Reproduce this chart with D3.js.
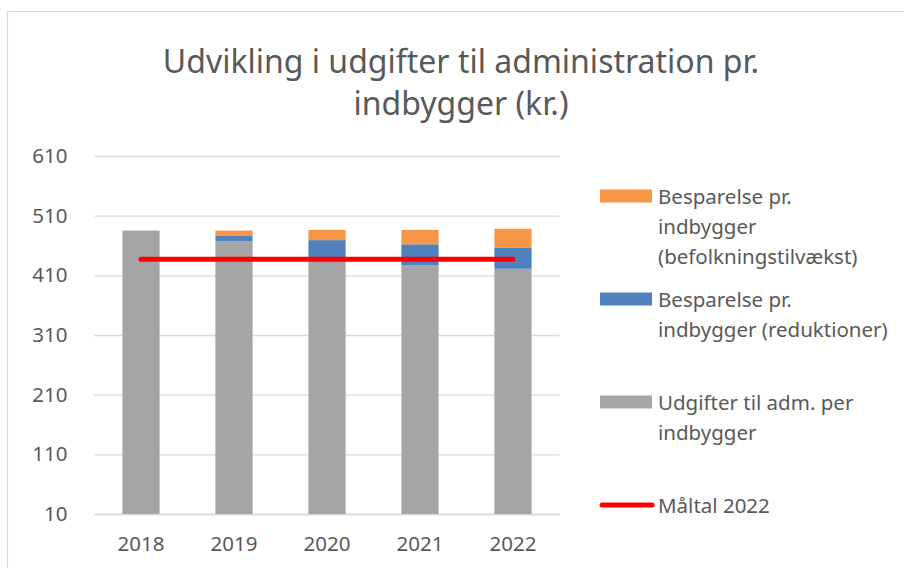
<!DOCTYPE html>
<html>
<head>
<meta charset="utf-8">
<script src="https://cdn.jsdelivr.net/npm/d3@7"></script>
<style>
    body { margin: 0; background: #fff; }
    text { font-family: "Noto Sans", "Open Sans", sans-serif; fill: #595959; }
</style>
</head>
<body>
<div id="container"></div>
<script>
const years = ["2018", "2019", "2020", "2021", "2022"]
const udgifter = [485, 467, 438, 427, 421]
const reduktioner = [0, 9, 31, 35, 35]
const befolkning = [0, 9, 17, 24, 32]
const maltal = [437, 437, 437, 437, 437]
const yTicks = [10, 110, 210, 310, 410, 510, 610]
const titleLines = ["Udvikling i udgifter til administration pr.", "indbygger (kr.)"]
const legendItems = [
    { lines: ["Besparelse pr.", "indbygger", "(befolkningstilvækst)"], color: "#F79646", kind: "bar" },
    { lines: ["Besparelse pr.", "indbygger (reduktioner)"], color: "#4F81BD", kind: "bar" },
    { lines: ["Udgifter til adm. per", "indbygger"], color: "#A5A5A5", kind: "bar" },
    { lines: ["Måltal 2022"], color: "#FF0000", kind: "line" }
]

const specs = {
    width: 904, height: 568,
    plot: { left: 94.5, right: 559.5, top: 156, bottom: 514 },
    fontSize: 20.5
}

const drawFrame = (svg) => {
    svg.append("rect")
        .attr("x", 7.5).attr("y", 11.5)
        .attr("width", specs.width + 20).attr("height", specs.height + 20)
        .attr("fill", "none").attr("stroke", "#D9D9D9").attr("stroke-width", 1.2)

    svg.append("text")
        .attr("text-anchor", "middle")
        .attr("font-size", 32)
        .selectAll("tspan")
        .data(titleLines)
        .enter()
        .append("tspan")
        .attr("x", 461)
        .attr("y", (d, i) => 73 + i * 42)
        .text(d => d)
}

const buildChart = (svg) => {
    const p = specs.plot
    const xScale = d3.scaleBand().domain(years).range([p.left, p.right])
        .paddingInner(0.6).paddingOuter(0.3)
    const yScale = d3.scaleLinear().domain([10, 610]).range([p.bottom, p.top])

    // gridlines + y labels
    const yAxis = d3.axisLeft(yScale).tickValues(yTicks)
        .tickSize(-(p.right - p.left)).tickPadding(27)
    const gy = svg.append("g").attr("transform", `translate(${p.left},0)`).call(yAxis)
    gy.select(".domain").remove()
    gy.selectAll(".tick line").attr("stroke", "#D9D9D9").attr("stroke-width", 1.3)
    gy.selectAll(".tick text").attr("font-size", specs.fontSize).attr("fill", "#595959")
        .style("font-family", "\"Noto Sans\", sans-serif")

    const xAxis = d3.axisBottom(xScale).tickSize(0).tickPadding(22)
    const gx = svg.append("g").attr("transform", `translate(0,${p.bottom})`).call(xAxis)
    gx.select(".domain").attr("stroke", "#D9D9D9").attr("stroke-width", 1.3)
    gx.selectAll(".tick text").attr("font-size", specs.fontSize).attr("fill", "#595959")
        .style("font-family", "\"Noto Sans\", sans-serif")

    const rows = years.map((y, i) => ({ year: y, udgifter: udgifter[i], reduktioner: reduktioner[i], befolkning: befolkning[i] }))
    const keys = ["udgifter", "reduktioner", "befolkning"]
    const colors = { udgifter: "#A5A5A5", reduktioner: "#4F81BD", befolkning: "#F79646" }
    const series = d3.stack().keys(keys)(rows)

    // axis starts at 10, so clip the stack there
    svg.append("g").selectAll("g")
        .data(series)
        .enter()
        .append("g")
        .attr("fill", d => colors[d.key])
        .selectAll("rect")
        .data(d => d)
        .enter()
        .append("rect")
        .attr("x", d => xScale(d.data.year))
        .attr("width", xScale.bandwidth())
        .attr("y", d => yScale(Math.max(d[1], 10)))
        .attr("height", d => Math.max(0, yScale(Math.max(d[0], 10)) - yScale(Math.max(d[1], 10))))

    const line = d3.line()
        .x((d, i) => xScale(years[i]) + xScale.bandwidth() / 2)
        .y(d => yScale(d))
    svg.append("path")
        .attr("d", line(maltal))
        .attr("fill", "none")
        .attr("stroke", "#FF0000")
        .attr("stroke-width", 5)
        .attr("stroke-linecap", "round")
}

const drawLegend = (svg) => {
    const centers = [196, 299, 402, 505]
    const g = svg.append("g")
    legendItems.forEach((item, i) => {
        const cy = centers[i]
        if (item.kind === "bar") {
            g.append("rect").attr("x", 600).attr("y", cy - 6.5)
                .attr("width", 52).attr("height", 13).attr("fill", item.color)
        } else {
            g.append("line").attr("x1", 602).attr("x2", 652)
                .attr("y1", cy).attr("y2", cy)
                .attr("stroke", item.color).attr("stroke-width", 5)
                .attr("stroke-linecap", "round")
        }
        g.append("text")
            .attr("font-size", specs.fontSize)
            .selectAll("tspan")
            .data(item.lines)
            .enter()
            .append("tspan")
            .attr("x", 658)
            .attr("y", (d, j) => cy + 7.5 + j * 30)
            .text(d => d)
    })
}

const svg = d3.select("#container")
    .append("svg").attr("width", specs.width).attr("height", specs.height)
drawFrame(svg)
buildChart(svg)
drawLegend(svg)
</script>
</body>
</html>
